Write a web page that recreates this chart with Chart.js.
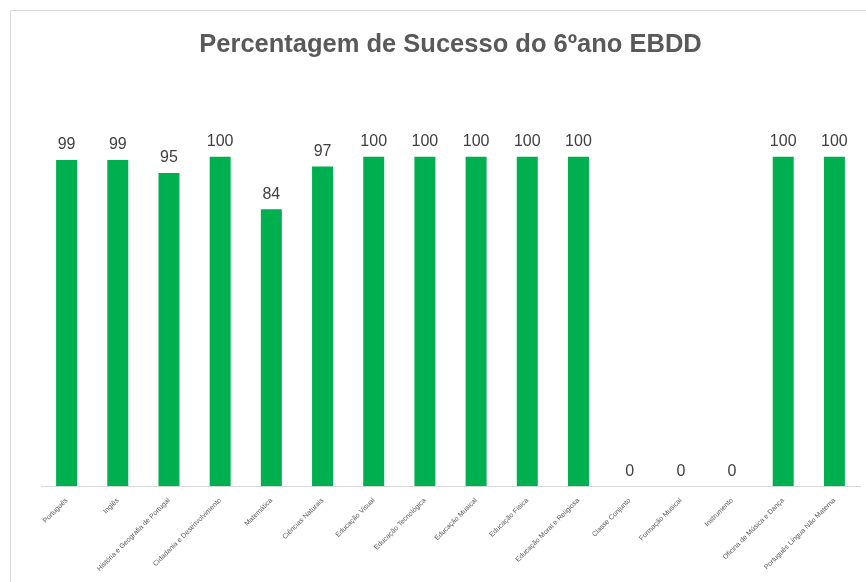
<!DOCTYPE html>
<html>
<head>
<meta charset="utf-8">
<script src="https://cdn.jsdelivr.net/npm/chart.js@4/dist/chart.umd.min.js"></script>
<style>
  body { margin: 0; background: #fff; }
  #frame {
    position: absolute; left: 10px; top: 10px; width: 900px; height: 600px;
    border-left: 1px solid #d9d9d9; border-top: 1px solid #d9d9d9;
  }
  #wrap { position: absolute; left: 0; top: 0; width: 866px; height: 582px; }
</style>
</head>
<body>
<div id="frame"></div>
<div id="wrap"><canvas id="chart"></canvas></div>
<script>
const subjects = [
  'Português', 'Inglês', 'História e Geografia de Portugal', 'Cidadania e Desenvolvimento',
  'Matemática', 'Ciências Naturais', 'Educação Visual', 'Educação Tecnológica',
  'Educação Musical', 'Educação Física', 'Educação Moral e Religiosa', 'Classe Conjunto',
  'Formação Musical', 'Instrumento', 'Oficina de Música e Dança', 'Português Língua Não Materna'
];
const successRate = [99, 99, 95, 100, 84, 97, 100, 100, 100, 100, 100, 0, 0, 0, 100, 100];

// draws the value above each bar
const valueLabels = {
  id: 'valueLabels',
  afterDatasetsDraw(chart) {
    const ctx = chart.ctx;
    const meta = chart.getDatasetMeta(0);
    ctx.save();
    ctx.font = '16px "Liberation Sans", Arial, sans-serif';
    ctx.fillStyle = '#404040';
    ctx.textAlign = 'center';
    ctx.textBaseline = 'bottom';
    meta.data.forEach((bar, i) => {
      ctx.fillText(successRate[i], bar.x, bar.y - 7);
    });
    ctx.restore();
  }
};

new Chart(document.getElementById('chart').getContext('2d'), {
  type: 'bar',
  data: {
    labels: subjects,
    datasets: [{
      data: successRate,
      backgroundColor: '#00b050',
      barPercentage: 0.41,
      categoryPercentage: 1,
    }],
  },
  options: {
    responsive: true,
    maintainAspectRatio: false,
    animation: false,
    layout: { padding: { left: 41, right: 6, top: 0, bottom: 7 } },
    plugins: {
      legend: { display: false },
      tooltip: { enabled: false },
      title: {
        display: true,
        text: 'Percentagem de Sucesso do 6ºano EBDD',
        color: '#595959',
        font: { family: '"Liberation Sans", Arial, sans-serif', size: 25.5, weight: 'bold' },
        padding: { top: 30, bottom: 96 },
      },
    },
    scales: {
      x: {
        grid: { display: false },
        border: { display: true, color: '#d9d9d9', width: 1 },
        ticks: {
          autoSkip: false,
          maxRotation: 45,
          minRotation: 45,
          color: '#595959',
          font: { family: '"Liberation Sans", Arial, sans-serif', size: 7 },
          padding: 2,
        },
      },
      y: {
        display: false,
        min: 0,
        max: 100,
      },
    },
  },
  plugins: [valueLabels],
});
</script>
</body>
</html>
